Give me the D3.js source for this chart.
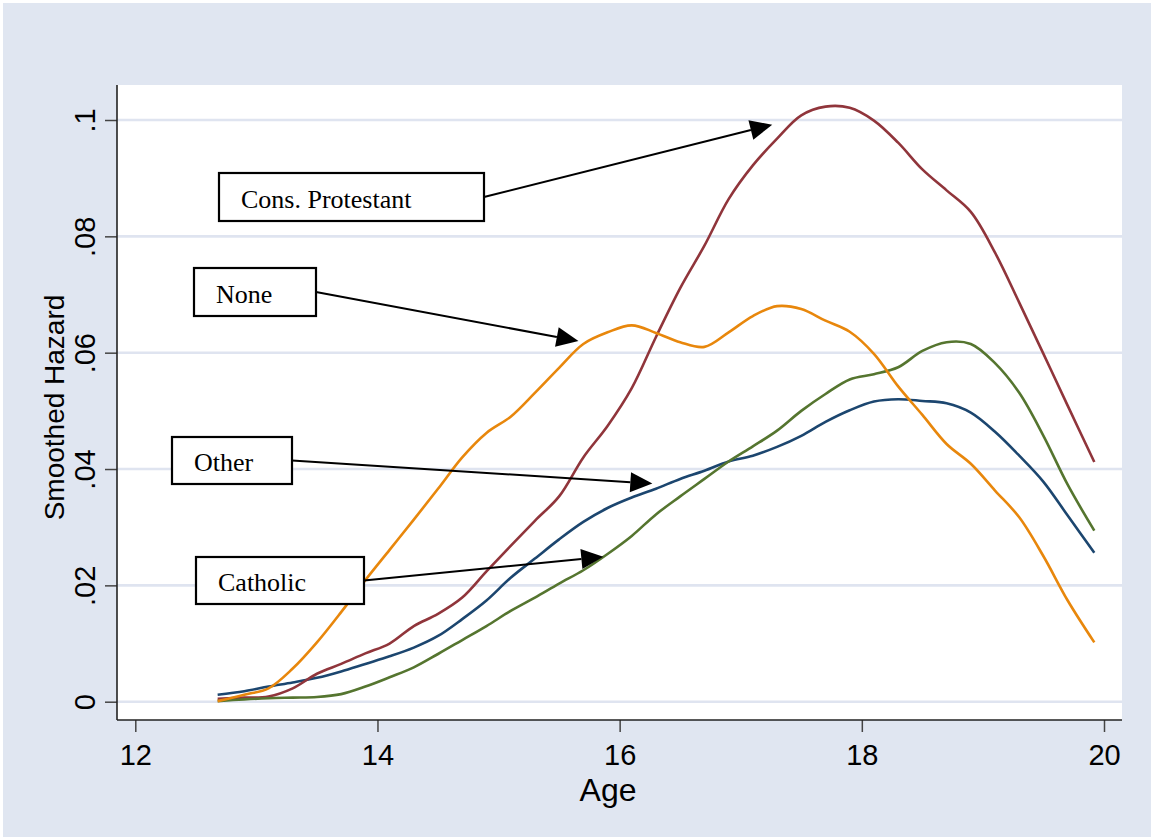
<!DOCTYPE html>
<html>
<head>
<meta charset="utf-8">
<script src="https://cdn.jsdelivr.net/npm/d3@7"></script>
<style>
  body { margin: 0; background: #fff; }
  svg { display: block; }
</style>
</head>
<body>
<div id="chart"></div>
<script>
// smoothed hazard by age, one array per religious group
const ages = [12.68, 12.9, 13.1, 13.3, 13.5, 13.7, 13.9, 14.1, 14.3, 14.5, 14.7, 14.9, 15.1, 15.3, 15.5, 15.7, 15.9,
  16.1, 16.3, 16.5, 16.7, 16.9, 17.1, 17.3, 17.5, 17.7, 17.9, 18.1, 18.3, 18.5, 18.7, 18.9, 19.1, 19.3, 19.5, 19.7, 19.92];

const other = [0.0012, 0.0018, 0.0026, 0.0033, 0.0041, 0.0052, 0.0065, 0.0078, 0.0093, 0.0113, 0.0142, 0.0174, 0.0213,
  0.0246, 0.0279, 0.0309, 0.0333, 0.0351, 0.0366, 0.0383, 0.0397, 0.0413, 0.0423, 0.0438, 0.0457, 0.0481, 0.0501,
  0.0516, 0.0520, 0.0517, 0.0513, 0.0497, 0.0464, 0.0423, 0.0378, 0.0320, 0.0256];

const consProtestant = [0.0005, 0.0007, 0.0009, 0.0023, 0.0048, 0.0065, 0.0083, 0.0100, 0.0130, 0.0151, 0.0179, 0.0224,
  0.0268, 0.0311, 0.0353, 0.0420, 0.0474, 0.0539, 0.0627, 0.0711, 0.0784, 0.0864, 0.0922, 0.0968, 0.1008, 0.1023,
  0.1021, 0.0999, 0.0961, 0.0915, 0.0879, 0.0842, 0.0772, 0.0686, 0.0598, 0.0509, 0.0412];

const catholic = [0.0001, 0.0004, 0.0006, 0.0007, 0.0008, 0.0013, 0.0026, 0.0042, 0.0059, 0.0082, 0.0106, 0.0130, 0.0156,
  0.0179, 0.0203, 0.0226, 0.0254, 0.0285, 0.0322, 0.0353, 0.0383, 0.0413, 0.0439, 0.0466, 0.0500, 0.0529, 0.0554,
  0.0563, 0.0575, 0.0603, 0.0618, 0.0615, 0.0582, 0.0531, 0.0457, 0.0373, 0.0294];

const none = [0.0001, 0.0012, 0.0023, 0.0057, 0.0102, 0.0154, 0.0209, 0.0261, 0.0313, 0.0366, 0.0420, 0.0462, 0.0490,
  0.0531, 0.0574, 0.0615, 0.0635, 0.0647, 0.0634, 0.0618, 0.0610, 0.0635, 0.0663, 0.0680, 0.0675, 0.0655, 0.0636,
  0.0598, 0.0542, 0.0493, 0.0443, 0.0409, 0.0363, 0.0317, 0.0250, 0.0174, 0.0102];

const xTicks = [12, 14, 16, 18, 20];
const yTicks = [0, 0.02, 0.04, 0.06, 0.08, 0.1];
const yTickLabels = ["0", ".02", ".04", ".06", ".08", ".1"];

const series = [
  { name: "Other", values: other, color: "#1c466f" },
  { name: "Cons. Protestant", values: consProtestant, color: "#90353b" },
  { name: "Catholic", values: catholic, color: "#55752f" },
  { name: "None", values: none, color: "#e8870c" }
];

// arrow targets are in data units (age, hazard)
const notes = [
  { text: "Cons. Protestant", box: [219, 173, 265, 48], target: [17.26, 0.0992] },
  { text: "None", box: [194, 268, 122, 48], target: [15.66, 0.0620] },
  { text: "Other", box: [172, 437, 120, 47], target: [16.27, 0.0375] },
  { text: "Catholic", box: [196, 557, 168, 47], target: [15.865, 0.0249] }
];

const width = 1151, height = 837;
const plot = { left: 117, right: 1122, top: 85, bottom: 720 };

const svg = d3.select("#chart").append("svg")
  .attr("width", width)
  .attr("height", height);

svg.append("rect")
  .attr("x", 3).attr("y", 3)
  .attr("width", width - 3).attr("height", height - 3)
  .attr("fill", "#e0e6f1");

svg.append("rect")
  .attr("x", plot.left).attr("y", plot.top)
  .attr("width", plot.right - plot.left).attr("height", plot.bottom - plot.top)
  .attr("fill", "#fff");

const x = d3.scaleLinear().domain([12, 20]).range([135.3, 1104]);
const y = d3.scaleLinear().domain([0, 0.1]).range([701.7, 120]);

// grid
svg.append("g")
  .selectAll("line")
  .data(yTicks)
  .enter().append("line")
  .attr("x1", plot.left).attr("x2", plot.right)
  .attr("y1", d => y(d)).attr("y2", d => y(d))
  .attr("stroke", "#dfe4f0")
  .attr("stroke-width", 2.6);

// y axis
const yAxis = svg.append("g")
  .attr("transform", `translate(${plot.left},0)`)
  .call(d3.axisLeft(y).tickValues(yTicks).tickSize(12).tickSizeOuter(0)
    .tickFormat((d, i) => yTickLabels[i]));
yAxis.select(".domain").remove();
yAxis.selectAll(".tick line").attr("stroke", "#444").attr("stroke-width", 1.5);
yAxis.selectAll(".tick text")
  .attr("x", null).attr("dy", null)
  .attr("transform", "translate(-22,0) rotate(-90)")
  .attr("text-anchor", "middle")
  .attr("font-family", "Liberation Sans, Arial, sans-serif")
  .attr("font-size", 29)
  .attr("fill", "#000");

// x axis
const xAxis = svg.append("g")
  .attr("transform", `translate(0,${plot.bottom})`)
  .call(d3.axisBottom(x).tickValues(xTicks).tickSize(12).tickSizeOuter(0).tickFormat(d3.format("d")));
xAxis.select(".domain").remove();
xAxis.selectAll(".tick line").attr("stroke", "#444").attr("stroke-width", 1.5);
xAxis.selectAll(".tick text")
  .attr("y", 45).attr("dy", null)
  .attr("font-family", "Liberation Sans, Arial, sans-serif")
  .attr("font-size", 29)
  .attr("fill", "#000");

// axis lines
svg.append("line")
  .attr("x1", plot.left).attr("x2", plot.left)
  .attr("y1", plot.top).attr("y2", plot.bottom)
  .attr("stroke", "#222").attr("stroke-width", 1.6);
svg.append("line")
  .attr("x1", plot.left).attr("x2", plot.right)
  .attr("y1", plot.bottom).attr("y2", plot.bottom)
  .attr("stroke", "#222").attr("stroke-width", 1.6);

// axis titles
svg.append("text")
  .attr("x", 608)
  .attr("y", 801)
  .attr("text-anchor", "middle")
  .attr("font-family", "Liberation Sans, Arial, sans-serif")
  .attr("font-size", 32)
  .text("Age");

svg.append("text")
  .attr("transform", `translate(64,${(plot.top + plot.bottom) / 2 + 5}) rotate(-90)`)
  .attr("text-anchor", "middle")
  .attr("font-family", "Liberation Sans, Arial, sans-serif")
  .attr("font-size", 28)
  .text("Smoothed Hazard");

// hazard curves
const line = d3.line()
  .x((d, i) => x(ages[i]))
  .y(d => y(d))
  .curve(d3.curveCatmullRom.alpha(0.5));

svg.append("g")
  .selectAll("path")
  .data(series)
  .enter().append("path")
  .attr("d", d => line(d.values))
  .attr("fill", "none")
  .attr("stroke", d => d.color)
  .attr("stroke-width", 2.6)
  .attr("stroke-linejoin", "round");

// labelled boxes with arrows
const noteG = svg.append("g");
notes.forEach(n => {
  const [bx, by, bw, bh] = n.box;
  const x0 = bx + bw, y0 = by + bh / 2;
  const tx = x(n.target[0]), ty = y(n.target[1]);
  const len = Math.hypot(tx - x0, ty - y0);
  const ux = (tx - x0) / len, uy = (ty - y0) / len;
  const headLen = 22, headW = 10;
  const baseX = tx - ux * headLen, baseY = ty - uy * headLen;

  noteG.append("line")
    .attr("x1", x0).attr("y1", y0)
    .attr("x2", baseX).attr("y2", baseY)
    .attr("stroke", "#000").attr("stroke-width", 2);

  noteG.append("polygon")
    .attr("points", [
      [tx, ty],
      [baseX - uy * headW, baseY + ux * headW],
      [baseX + uy * headW, baseY - ux * headW]
    ].map(p => p.join(",")).join(" "))
    .attr("fill", "#000");

  noteG.append("rect")
    .attr("x", bx).attr("y", by)
    .attr("width", bw).attr("height", bh)
    .attr("fill", "#fff")
    .attr("stroke", "#000").attr("stroke-width", 2.2);

  noteG.append("text")
    .attr("x", bx + 22)
    .attr("y", by + bh - 13)
    .attr("font-family", "Liberation Serif, Times New Roman, serif")
    .attr("font-size", 26)
    .text(n.text);
});
</script>
</body>
</html>
